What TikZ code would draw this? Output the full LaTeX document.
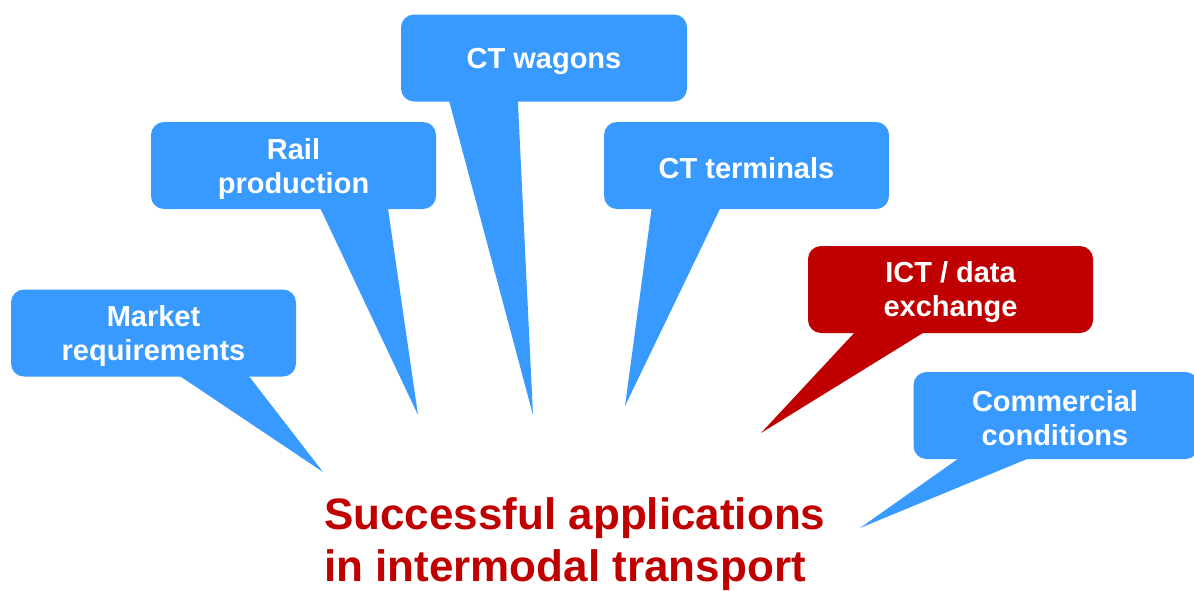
\documentclass[tikz,border=0pt]{standalone}
\usepackage{fontspec}
\setmainfont{Liberation Sans}
\usetikzlibrary{calc}
\definecolor{calloutblue}{RGB}{56,154,255}
\definecolor{darkred}{RGB}{192,0,0}
\tikzset{
  callout/.style={rounded corners=13pt, fill=#1, minimum width=285pt, minimum height=87pt, inner sep=0pt},
  callout/.default=calloutblue,
  ctext/.style={text=white, inner sep=0pt, align=center, font=\bfseries\fontsize{29}{34}\selectfont},
  tail/.style={fill=#1},
  tail/.default=calloutblue,
  title/.style={text=darkred, align=left, inner sep=0pt, font=\bfseries\fontsize{44}{52}\selectfont}
}
\begin{document}
\begin{tikzpicture}[x=1pt,y=-1pt]
\useasboundingbox (0,0) rectangle (1194,590);
% tips
\coordinate (tmr) at (323,472);
\coordinate (trp) at (418,415);
\coordinate (tctw) at (533,415);
\coordinate (tctt) at (625,406);
\coordinate (tict) at (761,433);
\coordinate (tcc) at (860,528);
% boxes
\node[callout] (mr) at (153.5,333) {};
\node[callout] (rp) at (293.5,165.5) {};
\node[callout, minimum width=286pt] (ctw) at (544,58) {};
\node[callout] (ctt) at (746.5,165.5) {};
\node[callout=darkred] (ict) at (950.5,289.5) {};
\node[callout] (cc) at (1056,415.5) {};
% tails
\fill[tail] ([xshift=167pt,yshift=2pt]mr.south west) -- (tmr) -- ([xshift=237pt,yshift=2pt]mr.south west) -- cycle;
\fill[tail] ([xshift=169pt,yshift=2pt]rp.south west) -- (trp) -- ([xshift=237pt,yshift=2pt]rp.south west) -- cycle;
\fill[tail] ([xshift=48pt,yshift=2pt]ctw.south west) -- (tctw) -- ([xshift=117pt,yshift=2pt]ctw.south west) -- cycle;
\fill[tail] ([xshift=48pt,yshift=2pt]ctt.south west) -- (tctt) -- ([xshift=117pt,yshift=2pt]ctt.south west) -- cycle;
\fill[tail=darkred] ([xshift=48pt,yshift=2pt]ict.south west) -- (tict) -- ([xshift=118pt,yshift=2pt]ict.south west) -- cycle;
\fill[tail] ([xshift=47pt,yshift=2pt]cc.south west) -- (tcc) -- ([xshift=118pt,yshift=2pt]cc.south west) -- cycle;
% texts
\node[ctext] (mrt) at ([yshift=-3pt]mr.center) {Market\\requirements};
\node[ctext] (rpt) at ([yshift=-3pt]rp.center) {Rail\\production};
\node[ctext] (ctwt) at ([yshift=-3pt]ctw.center) {CT wagons};
\node[ctext] (cttt) at ([yshift=-3pt]ctt.center) {CT terminals};
\node[ctext] (ictt) at ([yshift=-3pt]ict.center) {ICT / data\\exchange};
\node[ctext] (cct) at ([yshift=-3pt,xshift=-1pt]cc.center) {Commercial\\conditions};
% title
\node[title, anchor=base west] (ttl) at (324,581) {Successful applications\\in intermodal transport};
\end{tikzpicture}
\end{document}
